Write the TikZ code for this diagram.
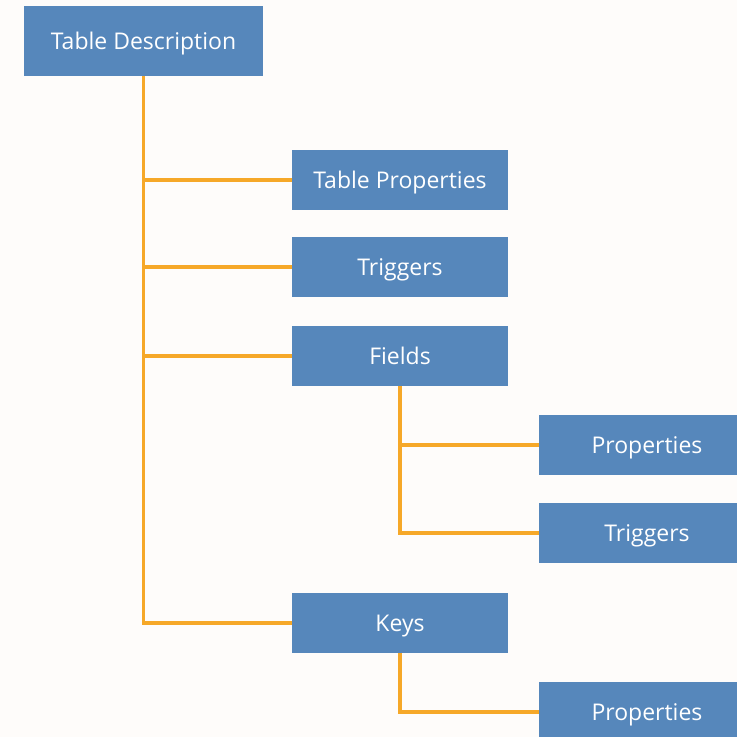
\documentclass[tikz,border=0pt]{standalone}
\usepackage{fontspec}
\setmainfont{Open Sans}
\definecolor{boxblue}{RGB}{86,135,187}
\definecolor{linkorange}{RGB}{246,168,40}
\definecolor{paper}{RGB}{254,252,250}
\tikzset{
  item/.style={fill=boxblue, text=white, minimum width=216pt, minimum height=60pt,
    inner sep=0pt, text height=17pt, text depth=0pt, font=\fontsize{23}{25}\selectfont},
  link/.style={draw=linkorange, line width=3.5pt}
}
\begin{document}
\begin{tikzpicture}[x=1pt,y=1pt]
      \useasboundingbox (0,0) rectangle (737,-737);
      \fill[paper] (0,0) rectangle (737,-737);
      \clip (0,0) rectangle (737,-737);
      \draw
        (143.5,-41) node[item, minimum width=239pt, minimum height=70pt] (desc){Table Description}
        (400,-180) node[item] (tprop){Table Properties}
        (400,-267) node[item] (trig){Triggers}
        (400,-356) node[item] (fields){Fields}
        (647,-445) node[item] (fprop){Properties}
        (647,-533) node[item] (ftrig){Triggers}
        (400,-623) node[item] (keys){Keys}
        (647,-712) node[item] (kprop){Properties};
      \begin{scope}[link]
        \draw (desc) |- (tprop);
        \draw (desc) |- (trig);
        \draw (desc) |- (fields);
        \draw (desc) |- (keys);
        \draw (fields) |- (fprop);
        \draw (fields) |- (ftrig);
        \draw (keys) |- (kprop);
      \end{scope}
    \end{tikzpicture}
\end{document}
